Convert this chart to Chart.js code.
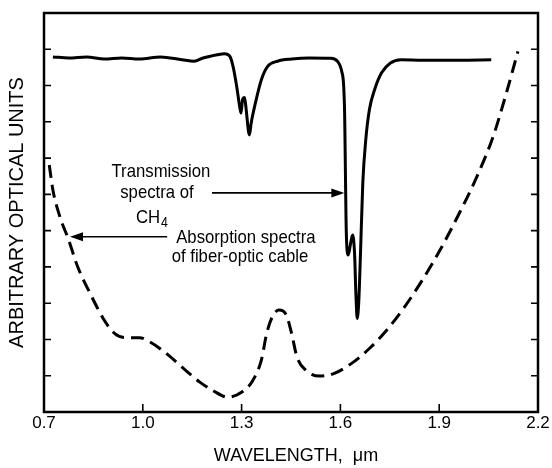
<!DOCTYPE html>
<html>
<head>
<meta charset="utf-8">
<script src="https://cdn.jsdelivr.net/npm/chart.js@4.4.0/dist/chart.umd.min.js"></script>
<style>
  html, body { margin: 0; padding: 0; background: #fff; }
</style>
</head>
<body>
<canvas id="spectra" width="552" height="468"></canvas>
<script>
// wavelength axis (um)
const xTicks = [0.7, 1.0, 1.3, 1.6, 1.9, 2.2];
const xTickLabels = ['0.7', '1.0', '1.3', '1.6', '1.9', '2.2'];

// transmission spectra of CH4 (solid line)
const transWl = [0.727, 0.775, 0.829, 0.883, 0.936, 0.990, 1.054, 1.119, 1.156, 1.183, 1.226, 1.248,
  1.264, 1.274, 1.285, 1.294, 1.298, 1.303, 1.309, 1.314, 1.321, 1.324, 1.329, 1.342, 1.360, 1.379,
  1.409, 1.452, 1.505, 1.570, 1.591, 1.604, 1.610, 1.613, 1.615, 1.617, 1.619, 1.624, 1.631, 1.637,
  1.643, 1.647, 1.651, 1.656, 1.661, 1.668, 1.677, 1.688, 1.704, 1.725, 1.752, 1.784, 1.849, 1.956, 2.058];
const transVal = [9.79, 9.76, 9.79, 9.73, 9.76, 9.73, 9.79, 9.71, 9.67, 9.76, 9.85, 9.88,
  9.81, 9.53, 8.98, 8.43, 8.24, 8.61, 8.67, 8.33, 7.73, 7.64, 7.96, 8.52, 9.16, 9.53,
  9.67, 9.73, 9.76, 9.75, 9.67, 9.39, 8.98, 8.15, 6.77, 5.39, 4.65, 4.33, 4.65, 4.88,
  4.37, 3.27, 2.58, 3.08, 4.37, 6.31, 7.50, 8.33, 8.89, 9.35, 9.62, 9.71, 9.70, 9.70, 9.71];

// absorption spectra of fiber-optic cable (dashed line)
const absWl = [0.716, 0.727, 0.748, 0.775, 0.802, 0.840, 0.883, 0.915, 0.947, 0.990, 1.022, 1.065,
  1.119, 1.172, 1.215, 1.258, 1.301, 1.334, 1.360, 1.376, 1.393, 1.414, 1.436, 1.452, 1.468, 1.495,
  1.537, 1.580, 1.634, 1.688, 1.741, 1.795, 1.849, 1.903, 1.956, 2.010, 2.064, 2.107, 2.139];
const absVal = [6.81, 6.12, 5.39, 4.74, 4.01, 3.27, 2.53, 2.16, 2.05, 2.05, 1.93, 1.66,
  1.24, 0.83, 0.58, 0.41, 0.55, 0.87, 1.43, 2.16, 2.62, 2.81, 2.67, 2.16, 1.52, 1.15,
  0.99, 1.06, 1.34, 1.75, 2.26, 2.90, 3.64, 4.47, 5.39, 6.40, 7.60, 8.89, 9.94];

const FONT = '"Liberation Sans", Arial, sans-serif';

// box with inward tick marks
const frame = {
  id: 'frame',
  afterDraw(chart) {
    const { ctx, chartArea: a, scales: { x, y } } = chart;
    ctx.save();
    ctx.strokeStyle = '#000';
    ctx.lineWidth = 2.5;
    ctx.strokeRect(a.left, a.top, a.right - a.left, a.bottom - a.top);
    ctx.lineWidth = 1.6;
    ctx.beginPath();
    y.ticks.forEach(t => {
      if (t.value <= y.min || t.value >= y.max) return;
      const py = y.getPixelForValue(t.value);
      ctx.moveTo(a.left, py); ctx.lineTo(a.left + 7, py);
      ctx.moveTo(a.right, py); ctx.lineTo(a.right - 7, py);
    });
    x.ticks.forEach(t => {
      if (t.value <= x.min || t.value >= x.max) return;
      const px = x.getPixelForValue(t.value);
      ctx.moveTo(px, a.bottom); ctx.lineTo(px, a.bottom - 8);
    });
    ctx.stroke();
    ctx.restore();
  }
};

function arrow(ctx, x0, y0, x1, y1) {
  const dir = Math.sign(x1 - x0);
  ctx.beginPath();
  ctx.moveTo(x0, y0);
  ctx.lineTo(x1 - dir * 10, y1);
  ctx.stroke();
  ctx.beginPath();
  ctx.moveTo(x1, y1);
  ctx.lineTo(x1 - dir * 13, y1 - 4.5);
  ctx.lineTo(x1 - dir * 13, y1 + 4.5);
  ctx.closePath();
  ctx.fill();
}

// text squeezed sideways a little, the reference lettering is tall and narrow
function label(ctx, text, x, y, size, sx) {
  ctx.save();
  ctx.translate(x, y);
  ctx.scale(sx, 1);
  ctx.font = size + 'px ' + FONT;
  ctx.fillText(text, 0, 0);
  ctx.restore();
}

// the two labels and their arrows
const notes = {
  id: 'notes',
  afterDatasetsDraw(chart) {
    const { ctx, scales: { x, y } } = chart;
    const px = v => x.getPixelForValue(v);
    const py = v => y.getPixelForValue(v);
    const SX = 0.88;
    ctx.save();
    ctx.fillStyle = '#000';
    ctx.strokeStyle = '#000';
    ctx.lineWidth = 1.6;
    ctx.textAlign = 'center';
    ctx.textBaseline = 'middle';
    label(ctx, 'Transmission', px(1.055), py(6.62), 19, SX);
    label(ctx, 'spectra of', px(1.043), py(6.04), 19, SX);
    // CH4 with subscript
    ctx.textAlign = 'left';
    ctx.font = '19px ' + FONT;
    const wCH = ctx.measureText('CH').width * SX;
    const cx = px(1.028) - (wCH + 8) / 2, cy = py(5.35);
    label(ctx, 'CH', cx, cy, 19, SX);
    label(ctx, '4', cx + wCH + 1, cy + 5, 14, SX);
    ctx.textAlign = 'center';
    arrow(ctx, px(1.21), py(6.04), px(1.612), py(6.04));

    label(ctx, 'Absorption spectra', px(1.313), py(4.80), 19, SX);
    label(ctx, 'of fiber-optic cable', px(1.295), py(4.27), 19, SX);
    arrow(ctx, px(1.074), py(4.83), px(0.779), py(4.83));
    ctx.restore();
  }
};

const ctx = document.getElementById('spectra').getContext('2d');
new Chart(ctx, {
  type: 'line',
  data: {
    datasets: [
      {
        label: 'Transmission spectra of CH4',
        data: transWl.map((w, i) => ({ x: w, y: transVal[i] })),
        borderColor: '#000',
        borderWidth: 3,
        pointRadius: 0,
        cubicInterpolationMode: 'monotone',
        fill: false
      },
      {
        label: 'Absorption spectra of fiber-optic cable',
        data: absWl.map((w, i) => ({ x: w, y: absVal[i] })),
        borderColor: '#000',
        borderWidth: 3,
        borderDash: [13, 7],
        pointRadius: 0,
        cubicInterpolationMode: 'monotone',
        fill: false
      }
    ]
  },
  options: {
    responsive: false,
    animation: false,
    layout: { padding: { top: 13, right: 14, left: 0, bottom: 0 } },
    plugins: {
      legend: { display: false },
      tooltip: { enabled: false }
    },
    scales: {
      x: {
        type: 'linear',
        min: 0.7,
        max: 2.2,
        afterBuildTicks: scale => { scale.ticks = xTicks.map(v => ({ value: v })); },
        afterFit: scale => { scale.height = 56; },
        grid: { display: false, drawTicks: false },
        border: { display: false },
        ticks: {
          color: '#000',
          padding: 1,
          font: { family: FONT, size: 17 },
          callback: (v, i) => xTickLabels[i]
        },
        title: {
          display: true,
          text: '  WAVELENGTH,  \u03bcm',
          color: '#000',
          font: { family: FONT, size: 18 },
          padding: { top: 0, bottom: 1 }
        }
      },
      y: {
        min: 0,
        max: 11,
        afterFit: scale => { scale.width = 44; },
        grid: { display: false, drawTicks: false },
        border: { display: false },
        ticks: { display: false, stepSize: 1 },
        title: {
          display: true,
          text: 'ARBITRARY OPTICAL UNITS',
          color: '#000',
          font: { family: FONT, size: 20 },
          padding: { top: 5, bottom: 0 }
        }
      }
    }
  },
  plugins: [frame, notes]
});
</script>
</body>
</html>
